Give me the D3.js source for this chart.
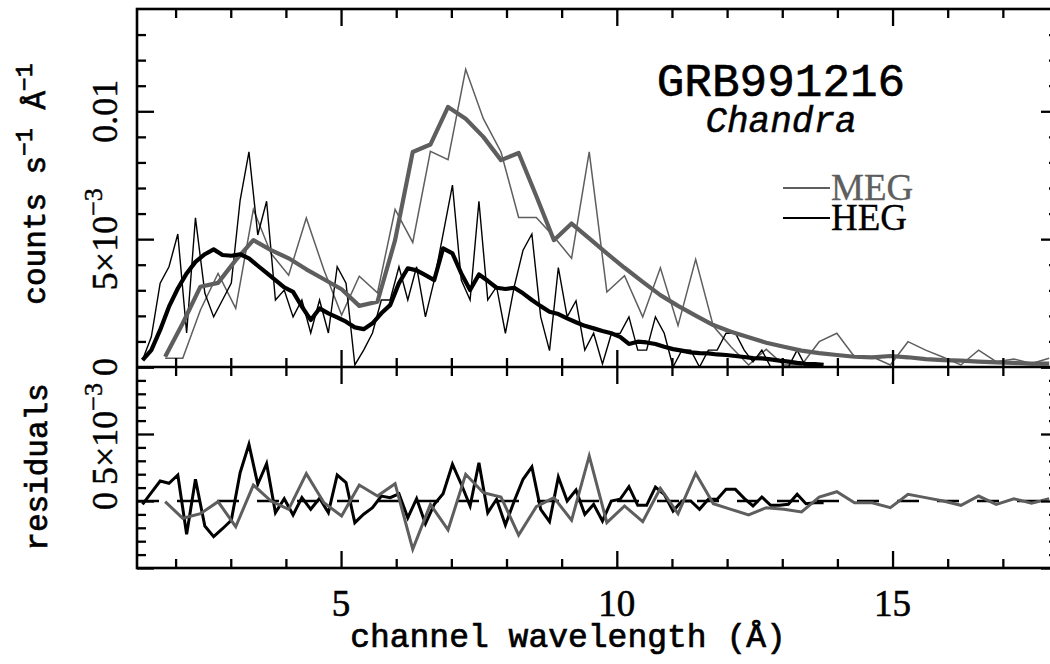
<!DOCTYPE html>
<html><head><meta charset="utf-8">
<script src="https://cdn.jsdelivr.net/npm/d3@7"></script>
<style>
body{margin:0;background:#fff}
svg{display:block}
.mono{font-family:"Liberation Mono",monospace;}
.serif{font-family:"Liberation Serif",serif;}
</style>
</head><body>
<svg id="chart" width="1050" height="664"></svg>
<script>
// ---------- data (flux and residuals in units of 1e-3 counts s^-1 Å^-1) ----------
const hegWave = [1.40,1.56,1.72,1.88,2.04,2.20,2.36,2.53,2.69,2.85,3.01,3.17,3.33,3.49,3.65,3.81,3.97,4.13,4.29,4.45,
  4.61,4.77,4.93,5.09,5.25,5.41,5.57,5.73,5.89,6.05,6.21,6.37,6.53,6.69,6.85,7.02,7.18,7.34,7.50,7.66,
  7.82,7.98,8.14,8.30,8.46,8.62,8.78,8.94,9.10,9.26,9.42,9.58,9.74,9.90,10.06,10.22,10.38,10.54,10.70,10.86,
  11.02,11.18,11.34,11.50,11.66,11.82,11.98,12.15,12.31,12.47,12.63,12.79,12.95,13.11,13.27,13.43,13.59,13.75];
const hegFlux = [0.27,1.18,3.28,3.92,5.20,1.33,5.83,2.89,1.96,2.62,3.28,6.52,8.41,5.16,6.48,2.62,3.01,1.96,2.62,1.33,
  2.62,1.33,3.92,3.28,0.08,0.66,1.33,2.62,2.62,3.92,2.62,3.92,1.96,3.40,5.20,7.11,3.40,2.62,6.48,2.62,
  3.14,1.32,3.14,4.57,5.20,1.96,0.64,3.89,1.96,2.59,0.66,1.32,0.12,1.29,1.32,1.96,0.66,0.66,1.96,1.32,
  0.00,0.66,0.66,0.00,0.66,0.66,1.32,1.32,0.66,0.20,0.66,0.00,0.00,0.00,0.66,0.00,0.00,0.00];
const hegModel = [0.27,0.66,1.45,2.36,3.07,3.66,4.11,4.41,4.60,4.38,4.35,4.41,4.25,3.96,3.68,3.40,3.11,2.94,2.36,1.84,
  2.29,2.10,1.94,1.77,1.55,1.48,1.71,2.10,2.42,3.28,3.86,3.78,3.59,3.40,4.64,4.44,3.66,3.01,3.62,3.37,
  3.10,3.05,3.10,2.88,2.62,2.38,2.16,2.07,1.90,1.75,1.61,1.51,1.41,1.32,1.18,0.90,0.99,0.96,0.90,0.79,
  0.70,0.64,0.57,0.54,0.53,0.49,0.47,0.43,0.39,0.35,0.34,0.30,0.25,0.21,0.16,0.12,0.11,0.08];
const hegResid = [-0.25,0.62,1.49,1.32,1.94,-2.49,1.62,-1.87,-2.66,-2.07,-1.44,2.11,4.23,1.25,2.78,-0.87,0.17,-1.04,0.25,-0.62,
  0.20,-0.87,1.94,1.37,-1.62,-0.99,-0.50,0.37,0.25,0.54,-1.25,0.17,-1.69,-0.25,0.54,2.74,1.25,-0.37,2.86,-0.87,
  0.13,-1.79,0.00,1.62,2.54,-0.62,-1.54,1.79,0.00,0.82,-1.00,-0.25,-1.49,0.00,0.13,1.07,-0.32,-0.32,1.04,0.50,
  -0.75,0.00,0.00,-0.62,0.13,0.13,0.87,0.87,0.20,-0.37,0.30,-0.32,-0.32,-0.25,0.50,-0.20,-0.13,-0.13];

const megWave = [1.81,2.13,2.45,2.77,3.09,3.41,3.73,4.05,4.37,4.69,5.01,5.33,5.66,5.98,6.30,6.62,6.94,7.26,7.58,7.90,
  8.22,8.54,8.86,9.18,9.50,9.82,10.14,10.47,10.79,11.11,11.43,11.75,12.07,12.39,12.71,13.03,13.35,13.67,13.99,14.31,
  14.63,14.96,15.28,15.60,15.92,16.24,16.56,16.88,17.20,17.52,17.84];
const megFlux = [0.34,0.34,2.23,3.66,2.29,6.16,4.44,3.59,5.83,3.79,2.03,3.55,2.90,6.16,4.87,8.43,8.11,11.64,9.71,8.41,
  5.85,5.85,5.09,4.25,8.41,2.93,3.57,1.96,3.88,1.62,4.21,1.60,0.79,0.08,0.69,0.08,0.08,0.99,1.32,0.40,
  0.40,0.08,0.99,0.66,0.38,0.08,0.66,0.21,0.31,0.14,0.34];
const megModel = [0.40,1.71,3.14,3.29,4.18,4.96,4.57,4.25,3.82,3.43,3.04,2.39,2.55,4.96,8.41,8.70,10.17,9.71,9.00,8.09,
  8.37,6.69,4.96,5.61,5.03,4.44,3.88,3.33,2.81,2.39,2.01,1.64,1.38,1.16,0.95,0.79,0.64,0.54,0.47,0.40,
  0.38,0.43,0.38,0.31,0.27,0.25,0.21,0.18,0.16,0.13,0.13];
const megResid = [-0.05,-1.29,-0.95,-0.05,-1.92,1.19,0.00,-0.62,2.04,-0.13,-1.12,1.19,0.37,1.29,-3.60,-0.25,-2.16,1.99,0.62,0.30,
  -2.54,-0.43,0.25,-1.44,3.36,-1.62,-0.37,-1.54,0.95,-0.95,2.07,-0.20,-0.62,-1.04,-0.50,-0.62,-0.82,0.30,0.69,-0.13,
  -0.13,-0.50,0.50,0.25,0.00,-0.32,0.37,-0.25,0.17,-0.17,0.17];

// ---------- ticks / labels ----------
const xMajorTicks = [5,10,15];
const xMinorTicks = [2,3,4,6,7,8,9,11,12,13,14,16,17];
const xTickLabels = ["5","10","15"];
const topMajorTicks = [0,5,10];
const topMinorTicks = [1,2,3,4,6,7,8,9,11,12,13];
const topTickBase = ["0","5×10","0.01"];
const topTickExp  = ["","−3",""];
const resMajorTicks = [-5,0,5,10];
const resMinorTicks = [-4,-3,-2,-1,1,2,3,4,6,7,8,9];
const resLabelTicks = [0,5];
const resTickBase = ["0","5×10"];
const resTickExp  = ["","−3"];
const seriesNames = ["MEG","HEG"];

// ---------- layout ----------
const L=137, R=1058, T=9, M=367, B=568;
const GRAY="#5e5e5e";
const svg=d3.select("#chart");
const x=d3.scaleLinear().domain([1.3,18]).range([L,R]);
const yTop=d3.scaleLinear().domain([0,14]).range([M,T]);
const yRes=d3.scaleLinear().domain([-5,10]).range([B,M]);

const defs=svg.append("defs");
defs.append("clipPath").attr("id","clipTop").append("rect").attr("x",L).attr("y",T).attr("width",R-L).attr("height",M-T);
defs.append("clipPath").attr("id","clipRes").append("rect").attr("x",L).attr("y",M).attr("width",R-L).attr("height",B-M);

function lineTop(wave){return d3.line().x((d,i)=>x(wave[i])).y(d=>yTop(d));}
function lineRes(wave){return d3.line().x((d,i)=>x(wave[i])).y(d=>yRes(d));}

// top panel curves
const gTop=svg.append("g").attr("clip-path","url(#clipTop)");
gTop.append("path").datum(megFlux).attr("d",lineTop(megWave)).attr("fill","none").attr("stroke",GRAY).attr("stroke-width",1.5);
gTop.append("path").datum(hegFlux).attr("d",lineTop(hegWave)).attr("fill","none").attr("stroke","#000").attr("stroke-width",1.4);
gTop.append("path").datum(megModel).attr("d",lineTop(megWave)).attr("fill","none").attr("stroke",GRAY).attr("stroke-width",4.2).attr("stroke-linejoin","round");
gTop.append("path").datum(hegModel).attr("d",lineTop(hegWave)).attr("fill","none").attr("stroke","#000").attr("stroke-width",4.2).attr("stroke-linejoin","round");

// residual panel
const gRes=svg.append("g").attr("clip-path","url(#clipRes)");
gRes.append("line").attr("x1",L).attr("x2",R).attr("y1",yRes(0)).attr("y2",yRes(0))
  .attr("stroke","#000").attr("stroke-width",2.4).attr("stroke-dasharray","22,18");
gRes.append("path").datum(hegResid).attr("d",lineRes(hegWave)).attr("fill","none").attr("stroke","#000").attr("stroke-width",3);
gRes.append("path").datum(megResid).attr("d",lineRes(megWave)).attr("fill","none").attr("stroke",GRAY).attr("stroke-width",3);

// ticks
function tickSet(axisFn, scale, values, size, tx, ty){
  const g=svg.append("g").attr("transform",`translate(${tx},${ty})`)
    .call(axisFn(scale).tickValues(values).tickSize(size).tickFormat(""));
  g.select(".domain").remove();
  g.selectAll(".tick line").attr("stroke","#000").attr("stroke-width",2.3);
}
const MAJ=-17, MIN=-9;
tickSet(d3.axisBottom,x,xMajorTicks,MAJ,0,M);
tickSet(d3.axisBottom,x,xMinorTicks,MIN,0,M);
tickSet(d3.axisTop,x,xMajorTicks,MAJ,0,T);
tickSet(d3.axisTop,x,xMinorTicks,MIN,0,T);
tickSet(d3.axisTop,x,xMajorTicks,MAJ,0,M);
tickSet(d3.axisTop,x,xMinorTicks,MIN,0,M);
tickSet(d3.axisBottom,x,xMajorTicks,MAJ,0,B);
tickSet(d3.axisBottom,x,xMinorTicks,MIN,0,B);
tickSet(d3.axisLeft,yTop,topMajorTicks,MAJ,L,0);
tickSet(d3.axisLeft,yTop,topMinorTicks,MIN,L,0);
tickSet(d3.axisRight,yTop,topMajorTicks,MAJ,R,0);
tickSet(d3.axisRight,yTop,topMinorTicks,MIN,R,0);
tickSet(d3.axisLeft,yRes,resMajorTicks,MAJ,L,0);
tickSet(d3.axisLeft,yRes,resMinorTicks,MIN,L,0);
tickSet(d3.axisRight,yRes,resMajorTicks,MAJ,R,0);
tickSet(d3.axisRight,yRes,resMinorTicks,MIN,R,0);

// frames
svg.append("rect").attr("x",L).attr("y",T).attr("width",R-L).attr("height",B-T)
  .attr("fill","none").attr("stroke","#000").attr("stroke-width",2.6);
svg.append("line").attr("x1",L).attr("x2",R).attr("y1",M).attr("y2",M).attr("stroke","#000").attr("stroke-width",2.6);

// x tick labels
svg.append("g").selectAll("text").data(xMajorTicks).join("text")
  .attr("class","serif").attr("x",d=>x(d)).attr("y",616).attr("text-anchor","middle")
  .attr("font-size",37).attr("fill","#000").attr("stroke","#000").attr("stroke-width",0.6)
  .text((d,i)=>xTickLabels[i]);

// y tick labels (rotated)
function yLabels(scale, ticks, base, exp){
  const g=svg.append("g").selectAll("text").data(ticks).join("text")
    .attr("class","serif").attr("transform",d=>`translate(117,${scale(d)}) rotate(-90)`)
    .attr("text-anchor","middle").attr("font-size",36).attr("fill","#000").attr("stroke","#000").attr("stroke-width",0.5);
  g.append("tspan").text((d,i)=>base[i]);
  g.append("tspan").attr("dy",-15).attr("font-size",26).text((d,i)=>exp[i]);
}
yLabels(yTop, topMajorTicks, topTickBase, topTickExp);
yLabels(yRes, resLabelTicks, resTickBase, resTickExp);

// axis titles
svg.append("text").attr("class","mono").attr("x",568).attr("y",647).attr("text-anchor","middle")
  .attr("font-size",33).attr("fill","#000").attr("stroke","#000").attr("stroke-width",0.7)
  .text("channel wavelength (Å)");
const yt=svg.append("text").attr("class","mono").attr("transform","translate(45,184) rotate(-90)")
  .attr("text-anchor","middle").attr("font-size",31).attr("fill","#000").attr("stroke","#000").attr("stroke-width",0.7);
yt.append("tspan").text("counts s");
yt.append("tspan").attr("dy",-13).attr("font-size",23).text("−1");
yt.append("tspan").attr("dy",13).text(" Å");
yt.append("tspan").attr("dy",-13).attr("font-size",23).text("−1");
svg.append("text").attr("class","mono").attr("transform","translate(47,467) rotate(-90)")
  .attr("text-anchor","middle").attr("font-size",31).attr("fill","#000").attr("stroke","#000").attr("stroke-width",0.7)
  .text("residuals");

// title
svg.append("text").attr("class","mono").attr("x",781).attr("y",96).attr("text-anchor","middle")
  .attr("font-size",46).attr("fill","#000").attr("stroke","#000").attr("stroke-width",0.6).text("GRB991216");
svg.append("text").attr("class","mono").attr("x",781).attr("y",132).attr("text-anchor","middle")
  .attr("font-size",36).attr("font-style","italic").attr("fill","#000").attr("stroke","#000").attr("stroke-width",0.5).text("Chandra");

// legend
const legColors=[GRAY,"#000"];
const lg=svg.append("g");
lg.selectAll("line").data(seriesNames).join("line")
  .attr("x1",783).attr("x2",830).attr("y1",(d,i)=>188+i*30).attr("y2",(d,i)=>188+i*30)
  .attr("stroke",(d,i)=>legColors[i]).attr("stroke-width",2);
lg.selectAll("text").data(seriesNames).join("text")
  .attr("class","serif").attr("x",831).attr("y",(d,i)=>200+i*30).attr("font-size",37)
  .attr("fill",(d,i)=>legColors[i]).attr("stroke",(d,i)=>legColors[i]).attr("stroke-width",0.3).text(d=>d);
</script>
</body></html>
